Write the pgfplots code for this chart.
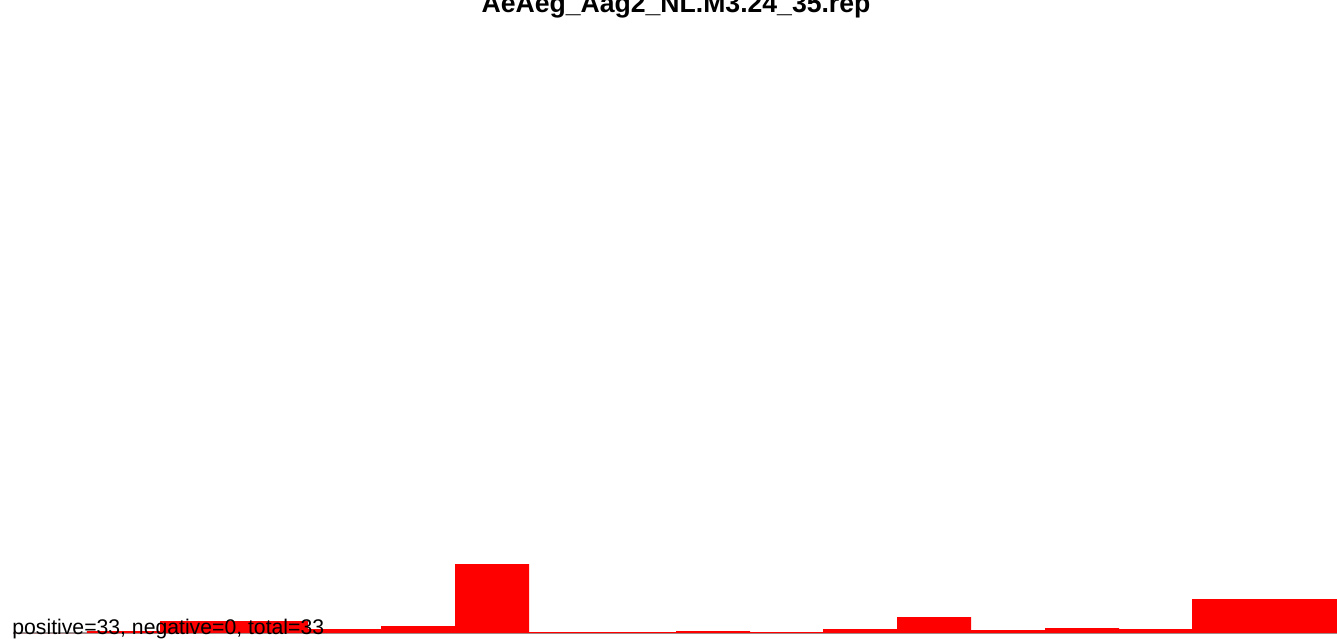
\documentclass[border=0pt]{standalone}
\usepackage{fontspec}
\setmainfont{Liberation Sans}
\usepackage{pgfplots}
\pgfplotsset{compat=1.18}
\begin{document}
\begin{tikzpicture}[x=1pt,y=1pt]
\useasboundingbox (0,0) rectangle (668.5,319);
\begin{axis}[
  at={(6.5pt,2.5pt)}, anchor=south west,
  scale only axis, width=662pt, height=300pt,
  xmin=13, xmax=1337, ymin=0, ymax=600,
  axis x line=bottom, axis y line=none,
  axis line style={-, gray!80, line width=0.8pt},
  xtick=\empty, ytick=\empty,
  clip=false,
]
\addplot[ybar interval, fill=red, draw=none] coordinates {
(13,0)(87,2)(160,12)(234,12)(308,4)(381,7)(455,69)(529,1)(602,1)(676,2)(750,1)(823,4)(897,16)(971,3)(1045,5)(1119,4)(1192,34)(1266,34)(1337,34)
};
\end{axis}
\node[anchor=base, font=\bfseries\fontsize{13.3pt}{16pt}\selectfont, inner sep=0pt] at (338,312.5) {AeAeg\_Aag2\_NL.M3.24\_35.rep};
\node[anchor=base west, font=\fontsize{10.6pt}{12pt}\selectfont, inner sep=0pt] at (6,2) {positive=33, negative=0, total=33};
\end{tikzpicture}
\end{document}
